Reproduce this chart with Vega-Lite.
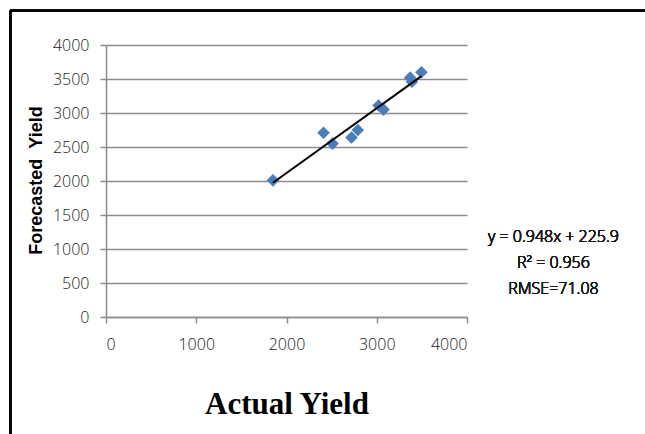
{
  "$schema": "https://vega.github.io/schema/vega-lite/v6.json",
  "width": 361,
  "height": 272,
  "autosize": {"type": "none"},
  "padding": {"left": 106, "top": 45, "right": 178, "bottom": 117},
  "background": "white",
  "config": {
    "view": {"stroke": null},
    "axis": {"labelFont": "Open Sans", "labelFontSize": 16, "labelFontWeight": 300, "labelColor": "#1a1a1a", "labelOverlap": false, "format": "d", "domainColor": "#8c8c8c", "domainWidth": 1.5, "tickColor": "#8c8c8c", "tickWidth": 1.5, "tickSize": 6}
  },
  "data": {
    "values": [
      {"actual": 1850, "forecast": 2010},
      {"actual": 2410, "forecast": 2710},
      {"actual": 2510, "forecast": 2550},
      {"actual": 2720, "forecast": 2640},
      {"actual": 2790, "forecast": 2750},
      {"actual": 3020, "forecast": 3110},
      {"actual": 3075, "forecast": 3050},
      {"actual": 3370, "forecast": 3520},
      {"actual": 3390, "forecast": 3460},
      {"actual": 3495, "forecast": 3600}
    ]
  },
  "encoding": {
    "x": {
      "field": "actual", "type": "quantitative",
      "scale": {"domain": [0, 4000], "nice": false},
      "axis": {
        "values": [0, 1000, 2000, 3000, 4000], "tickCount": 10, "grid": false, "labelPadding": 13,
        "title": "Actual Yield", "titleFont": "Liberation Serif", "titleFontSize": 31, "titleFontWeight": "bold",
        "titleColor": "#000000", "titleBaseline": "alphabetic", "titleY": 96, "titleX": 180.5
      }
    },
    "y": {
      "field": "forecast", "type": "quantitative",
      "scale": {"domain": [0, 4000], "nice": false},
      "axis": {
        "values": [0, 500, 1000, 1500, 2000, 2500, 3000, 3500, 4000], "tickCount": 20, "grid": true,
        "gridColor": "#8c8c8c", "gridWidth": 1.5, "labelPadding": 11,
        "title": "Forecasted\u00a0\u00a0Yield", "titleFont": "Liberation Sans", "titleFontSize": 18, "titleFontWeight": "bold",
        "titleColor": "#000000", "titleAngle": -90, "titleBaseline": "middle", "titleAlign": "center",
        "titleX": -70, "titleY": 135
      }
    }
  },
  "layer": [
    {
      "mark": {"type": "point", "shape": "diamond", "filled": true, "size": 160, "color": "#4a7ebb", "opacity": 1}
    },
    {
      "transform": [{"regression": "forecast", "on": "actual"}],
      "mark": {"type": "line", "color": "#000000", "strokeWidth": 2}
    },
    {
      "mark": {"type": "text", "font": "Open Sans", "fontSize": 16, "fontWeight": 300, "color": "#1a1a1a", "align": "center", "baseline": "middle", "lineHeight": 26},
      "encoding": {
        "x": {"datum": 4958, "type": "quantitative"},
        "y": {"datum": 1176, "type": "quantitative"},
        "text": {"value": ["y = 0.948x + 225.9", "R² = 0.956", "RMSE=71.08"]}
      }
    },
    {
      "mark": {"type": "rule", "color": "#000000", "strokeWidth": 2},
      "encoding": {
        "x": {"datum": -1061, "type": "quantitative"},
        "y": {"datum": 4504, "type": "quantitative"},
        "x2": {"datum": 6000},
        "y2": {"datum": 4504}
      }
    },
    {
      "mark": {"type": "rule", "color": "#000000", "strokeWidth": 2},
      "encoding": {
        "x": {"datum": -1061, "type": "quantitative"},
        "y": {"datum": 4504, "type": "quantitative"},
        "x2": {"datum": -1061},
        "y2": {"datum": -2500}
      }
    }
  ]
}
